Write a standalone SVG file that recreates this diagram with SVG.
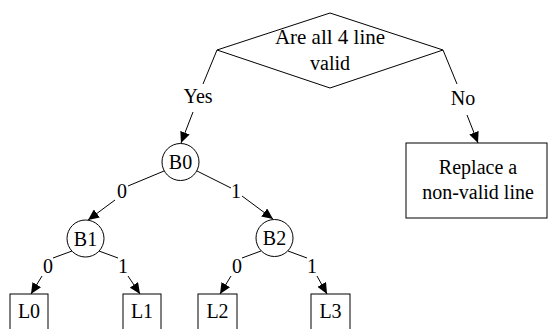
<svg xmlns="http://www.w3.org/2000/svg" width="548" height="329" viewBox="0 0 548 329">
<style>
text{font-family:'Liberation Serif','Times New Roman',serif;font-size:20px;fill:#000;text-anchor:middle}
.s{fill:#fff;stroke:#000;stroke-width:1}
.e{stroke:#000;stroke-width:1;fill:none}
</style>
<defs>
<marker id="a" markerWidth="12" markerHeight="10" refX="11" refY="5" orient="auto" markerUnits="userSpaceOnUse">
<path d="M0,0 L11,5 L0,10 Z" fill="#000"/>
</marker>
</defs>
<rect width="548" height="329" fill="#fff"/>
<g id="connectors">
<line class="e" x1="217" y1="50" x2="203" y2="84"/>
<line class="e" x1="193" y1="112" x2="181" y2="143" marker-end="url(#a)"/>
<line class="e" x1="443" y1="50" x2="457" y2="84"/>
<line class="e" x1="467" y1="115" x2="478" y2="143" marker-end="url(#a)"/>
<line class="e" x1="164" y1="171" x2="128" y2="186"/>
<line class="e" x1="115" y1="200" x2="88" y2="220" marker-end="url(#a)"/>
<line class="e" x1="197" y1="171" x2="231" y2="188"/>
<line class="e" x1="242" y1="196" x2="273" y2="219" marker-end="url(#a)"/>
<line class="e" x1="72" y1="251" x2="53" y2="258"/>
<line class="e" x1="42" y1="276" x2="31" y2="294" marker-end="url(#a)"/>
<line class="e" x1="99" y1="251" x2="118" y2="258"/>
<line class="e" x1="128" y1="276" x2="140" y2="294" marker-end="url(#a)"/>
<line class="e" x1="261" y1="251" x2="242" y2="258"/>
<line class="e" x1="231" y1="276" x2="220" y2="294" marker-end="url(#a)"/>
<line class="e" x1="288" y1="251" x2="307" y2="258"/>
<line class="e" x1="317" y1="276" x2="327" y2="294" marker-end="url(#a)"/>
<text x="198" y="103">Yes</text>
<text x="463" y="105">No</text>
<text x="122" y="198">0</text>
<text x="236" y="198">1</text>
<text x="48" y="273">0</text>
<text x="123" y="273">1</text>
<text x="237" y="273">0</text>
<text x="312" y="273">1</text>
</g>
<g id="decision">
<polygon class="s" points="330,13 443,50 330,88 217,50"/>
<text x="330" y="44" style="font-size:21px">Are all 4 line</text>
<text x="330" y="70">valid</text>
</g>
<g id="replace">
<rect class="s" x="406" y="143" width="141" height="75"/>
<text x="478" y="174">Replace a</text>
<text x="478" y="199">non-valid line</text>
</g>
<g id="B0"><circle class="s" cx="180.5" cy="162" r="18.5"/><text x="180.5" y="169">B0</text></g>
<g id="B1"><circle class="s" cx="85.5" cy="238.5" r="18.5"/><text x="85.5" y="245.5">B1</text></g>
<g id="B2"><circle class="s" cx="274.5" cy="238" r="18.5"/><text x="274.5" y="245">B2</text></g>
<g id="L0"><rect class="s" x="10" y="294" width="38" height="40"/><text x="29" y="318">L0</text></g>
<g id="L1"><rect class="s" x="123" y="294" width="38" height="40"/><text x="142" y="318">L1</text></g>
<g id="L2"><rect class="s" x="198" y="294" width="39" height="40"/><text x="217.5" y="318">L2</text></g>
<g id="L3"><rect class="s" x="311" y="294" width="39" height="40"/><text x="330.5" y="318">L3</text></g>
</svg>
